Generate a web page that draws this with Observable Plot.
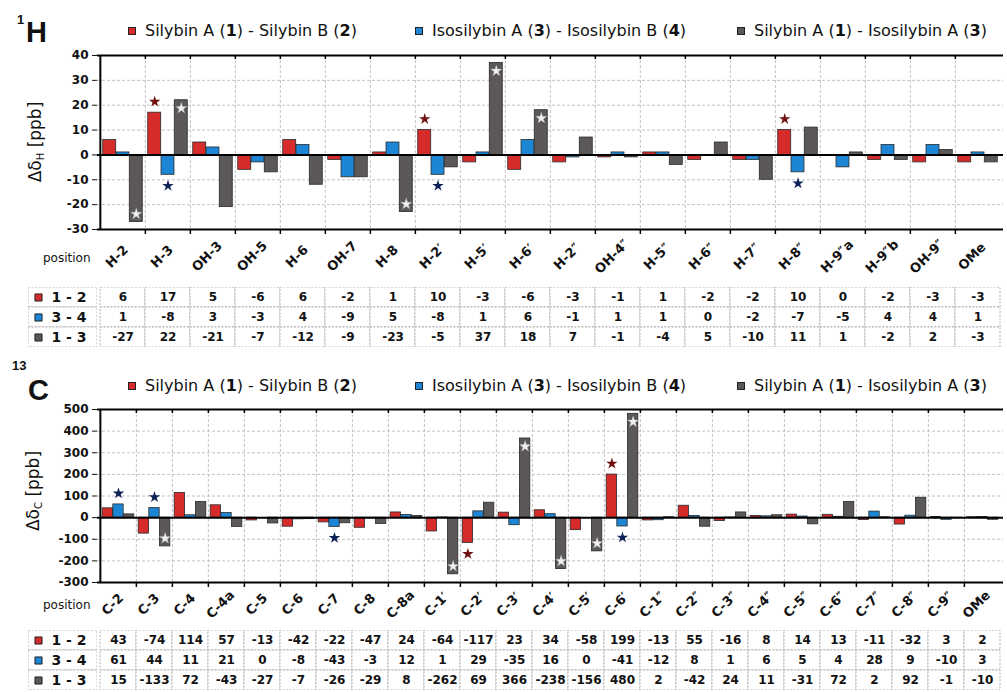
<!DOCTYPE html>
<html><head><meta charset="utf-8">
<script src="https://cdn.jsdelivr.net/npm/d3@7"></script>
<script src="https://cdn.jsdelivr.net/npm/@observablehq/plot@0.6"></script>
<style>
body{margin:0;background:#fff;font-family:"DejaVu Sans",sans-serif;color:#111;}
#root{position:relative;width:1007px;height:692px;overflow:hidden;background:#fff;}
#root > *{position:absolute;}
.tnum{font-family:"Liberation Sans",Arial,sans-serif;font-weight:bold;line-height:1;white-space:nowrap;}
.leg{display:flex;align-items:center;font-size:16px;line-height:20px;white-space:nowrap;}
.sw{display:inline-block;width:8px;height:8px;box-sizing:border-box;border:1px solid #222;margin-right:9px;}
.ylab{width:140px;height:22px;line-height:22px;text-align:center;transform:rotate(-90deg);font-size:17px;white-space:nowrap;}
.ylab sub{font-size:10px;vertical-align:-3px;}
</style></head><body><div id="root"></div>
<script>
// ---------- data ----------
const seriesLabels = ["Silybin A (1) - Silybin B (2)", "Isosilybin A (3) - Isosilybin B (4)", "Silybin A (1) - Isosilybin A (3)"];
const seriesLabelsHtml = ["Silybin A (<b>1</b>) - Silybin B (<b>2</b>)", "Isosilybin A (<b>3</b>) - Isosilybin B (<b>4</b>)", "Silybin A (<b>1</b>) - Isosilybin A (<b>3</b>)"];
const rowLabels = ["1 - 2", "3 - 4", "1 - 3"];

const hPositions = ["H-2","H-3","OH-3","OH-5","H-6","OH-7","H-8","H-2′","H-5′","H-6′","H-2″","OH-4″","H-5″","H-6″","H-7″","H-8″","H-9″a","H-9″b","OH-9″","OMe"];
const h12 = [6,17,5,-6,6,-2,1,10,-3,-6,-3,-1,1,-2,-2,10,0,-2,-3,-3];
const h34 = [1,-8,3,-3,4,-9,5,-8,1,6,-1,1,1,0,-2,-7,-5,4,4,1];
const h13 = [-27,22,-21,-7,-12,-9,-23,-5,37,18,7,-1,-4,5,-10,11,1,-2,2,-3];
const hTicks = [-30,-20,-10,0,10,20,30,40];
const hStars12 = ["H-3","H-2′","H-8″"];
const hStars34 = ["H-3","H-2′","H-8″"];
const hStars13 = ["H-2","H-3","H-8","H-5′","H-6′"];

const cPositions = ["C-2","C-3","C-4","C-4a","C-5","C-6","C-7","C-8","C-8a","C-1′","C-2′","C-3′","C-4′","C-5′","C-6′","C-1″","C-2″","C-3″","C-4″","C-5″","C-6″","C-7″","C-8″","C-9″","OMe"];
const c12 = [43,-74,114,57,-13,-42,-22,-47,24,-64,-117,23,34,-58,199,-13,55,-16,8,14,13,-11,-32,3,2];
const c34 = [61,44,11,21,0,-8,-43,-3,12,1,29,-35,16,0,-41,-12,8,1,6,5,4,28,9,-10,3];
const c13 = [15,-133,72,-43,-27,-7,-26,-29,8,-262,69,366,-238,-156,480,2,-42,24,11,-31,72,2,92,-1,-10];
const cTicks = [-300,-200,-100,0,100,200,300,400,500];
const cStars12 = ["C-2′","C-6′"];
const cStars34 = ["C-2","C-3","C-7","C-6′"];
const cStars13 = ["C-3","C-1′","C-3′","C-4′","C-5′","C-6′"];

// ---------- styles ----------
const colors = ["#d62b2b", "#1c86d5", "#5c5858"];
const starColors = ["#701010", "#0e2257", "#f0f0f0"];
const W = 1007, ML = 97, MR = 4;
const root = document.getElementById("root");

function place(el, left, top) { el.style.left = left + "px"; el.style.top = top + "px"; root.appendChild(el); return el; }

function makeBarPlot(cats, vals, ticks, stars, height, mt, mb, labelDy, posDy) {
  const n = cats.length, S = (W - ML - MR) / n, bw = S * 0.293, ins = (S - bw) / 2;
  const ymin = ticks[0], ymax = ticks[ticks.length - 1];
  const upp = (ymax - ymin) / (height - mt - mb);
  const series = vals.map(v => cats.map((c, i) => ({pos: c, value: v[i]})));
  const marks = [
    Plot.ruleY(ticks.slice(1, -1), {y: d => d, stroke: "#c2c2c2", strokeDasharray: "3,2"}),
    Plot.ruleX(cats.slice(1), {x: d => d, dx: -S / 2, stroke: "#c2c2c2", strokeDasharray: "3,2"})
  ];
  series.forEach((data, k) => marks.push(Plot.barY(data, {
    x: "pos", y: "value", fill: colors[k], stroke: "#2a2a2a", strokeWidth: 0.8,
    insetLeft: ins, insetRight: ins, dx: (k - 1) * bw
  })));
  marks.push(
    Plot.ruleY([0], {y: d => d, stroke: "#000", strokeWidth: 2}),
    Plot.ruleY([ymin, ymax], {y: d => d, stroke: "#000", strokeWidth: 2}),
    Plot.ruleX(cats.slice(0, 1), {x: d => d, dx: -S / 2, stroke: "#000", strokeWidth: 2}),
    Plot.ruleX(cats.slice(1), {x: d => d, dx: -S / 2, y1: ymax, y2: ymax - 4 * upp, stroke: "#000", strokeWidth: 1.5}),
    Plot.ruleX(cats.slice(1), {x: d => d, dx: -S / 2, y1: ymin, y2: ymin - 5 * upp, stroke: "#000", strokeWidth: 1.5}),
    Plot.axisY({ticks, tickSize: 5, tickPadding: 4, fontSize: 12, fontWeight: "bold", label: null, tickFormat: d => String(d)}),
    Plot.text(cats, {x: d => d, text: d => d, frameAnchor: "bottom", dy: labelDy, dx: -3, rotate: -45, fontSize: 13, fontWeight: "bold"}),
    Plot.text(["position"], {text: d => d, frameAnchor: "bottom-left", dx: -7, dy: posDy, textAnchor: "end", fontSize: 12})
  );
  stars.forEach((list, k) => {
    const inside = k === 2;
    const pts = list.map(c => ({pos: c, value: vals[k][cats.indexOf(c)]}));
    const off = inside ? 8 : 11;
    const common = {x: "pos", y: "value", dx: (k - 1) * bw, symbol: "star", r: 3.6, fill: starColors[k], stroke: inside ? "#999" : "none", strokeWidth: 0.4};
    marks.push(Plot.dot(pts.filter(d => d.value >= 0), {...common, dy: inside ? off : -off}));
    marks.push(Plot.dot(pts.filter(d => d.value < 0), {...common, dy: inside ? -off : off}));
  });
  return Plot.plot({
    width: W, height, marginLeft: ML, marginRight: MR, marginTop: mt, marginBottom: mb,
    x: {domain: cats, padding: 0, axis: null},
    y: {domain: [ymin, ymax]},
    style: {background: "transparent", fontFamily: "DejaVu Sans", color: "#111", overflow: "visible"},
    marks
  });
}

function makeTable(cats, vals, height) {
  const data = vals.flatMap((v, k) => cats.map((c, i) => ({pos: c, row: rowLabels[k], value: v[i]})));
  return Plot.plot({
    width: W, height, marginLeft: ML, marginRight: MR, marginTop: 0, marginBottom: 0,
    x: {domain: cats, padding: 0, axis: null},
    y: {domain: rowLabels, padding: 0, axis: null},
    style: {background: "transparent", fontFamily: "DejaVu Sans", color: "#111"},
    marks: [
      Plot.cell(data, {x: "pos", y: "row", fill: "#fff", stroke: "#b0b0b0", strokeDasharray: "2,1.5", inset: 0}),
      Plot.text(data, {x: "pos", y: "row", text: d => String(d.value), fontSize: 12, fontWeight: "bold"})
    ]
  });
}

function makeRowLabels(height) {
  return Plot.plot({
    width: ML - 28, height, margin: 0,
    x: {domain: ["k"], padding: 0, axis: null},
    y: {domain: rowLabels, padding: 0, axis: null},
    color: {type: "identity"},
    style: {background: "transparent", fontFamily: "DejaVu Sans", color: "#111"},
    marks: [
      Plot.cell(rowLabels, {x: () => "k", y: d => d, fill: "#fff", stroke: "#b0b0b0", strokeDasharray: "2,1.5", inset: 0}),
      Plot.dot(rowLabels, {x: () => "k", y: d => d, dx: -24.5, symbol: "square", r: 4, fill: (d, i) => colors[i], stroke: "#222", strokeWidth: 1}),
      Plot.text(rowLabels, {x: () => "k", y: d => d, dx: 6, text: d => d, fontSize: 14, fontWeight: "bold"})
    ]
  });
}

function legend(top) {
  const xs = [128, 415, 737];
  seriesLabelsHtml.forEach((html, k) => {
    const d = document.createElement("div");
    d.className = "leg";
    d.innerHTML = `<span class="sw" style="background:${colors[k]}"></span><span>${html}</span>`;
    d.title = seriesLabels[k];
    place(d, xs[k], top);
  });
}

function title(sup, main, supLeft, supTop, mainLeft, mainTop) {
  const s = document.createElement("div"); s.className = "tnum"; s.style.fontSize = "13px"; s.textContent = sup; place(s, supLeft, supTop);
  const m = document.createElement("div"); m.className = "tnum"; m.style.fontSize = "29px"; m.textContent = main; place(m, mainLeft, mainTop);
}

function ylabel(sub, cx, cy) {
  const d = document.createElement("div"); d.className = "ylab";
  d.innerHTML = `Δδ<sub>${sub}</sub> [ppb]`;
  place(d, cx - 70, cy - 11);
}

// ---------- 1H panel ----------
title("1", "H", 17, 13, 26, 18);
legend(21);
place(makeBarPlot(hPositions, [h12, h34, h13], hTicks, [hStars12, hStars34, hStars13], 235, 10, 51, 30, 32), 0, 45);
ylabel("H", 35, 142);
place(makeTable(hPositions, [h12, h34, h13], 60), 0, 287);
place(makeRowLabels(60), 28, 287);

// ---------- 13C panel ----------
title("13", "C", 12, 359, 28, 376);
legend(376);
place(makeBarPlot(cPositions, [c12, c34, c13], cTicks, [cStars12, cStars34, cStars13], 227, 10, 44, 25, 26), 0, 399);
ylabel("C", 33, 491);
place(makeTable(cPositions, [c12, c34, c13], 60), 0, 630);
place(makeRowLabels(60), 28, 630);
</script></body></html>
